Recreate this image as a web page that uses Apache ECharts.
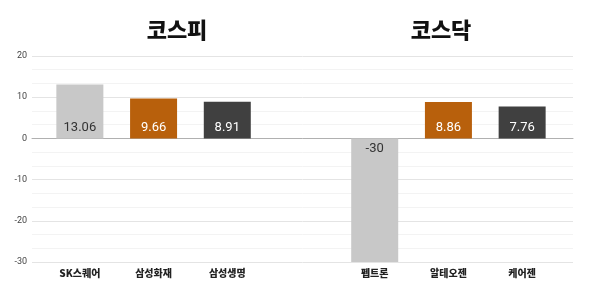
<!DOCTYPE html>
<html><head><meta charset="utf-8">
<script src="https://cdn.jsdelivr.net/npm/echarts@6/dist/echarts.min.js"></script>
<style>html,body{margin:0;padding:0;background:#fff}#c{width:600px;height:300px}</style>
</head><body><div id="c"></div>
<script>
const categories = ['SK스퀘어','삼성화재','삼성생명','','펩트론','알테오젠','케어젠'];
const values = [13.06, 9.66, 8.91, null, -30, 8.86, 7.76];
const groupTitles = ['코스피','코스닥'];
const yTicks = {min: -30, max: 20, interval: 10};
const barColors = ['#c8c8c8','#b8600c','#404040','#c8c8c8','#c8c8c8','#b8600c','#404040'];
const labelColors = ['#333333','#ffffff','#ffffff','#333333','#333333','#ffffff','#ffffff'];

const font = '"Noto Sans CJK KR", "Noto Sans", sans-serif';
const numFont = 'Roboto, "Noto Sans", sans-serif';
const chart = echarts.init(document.getElementById('c'));
const data = values.map((v, i) => v === null ? null : ({
  value: v,
  itemStyle: {color: barColors[i]},
  label: {color: labelColors[i], position: v < 0 ? 'insideTop' : 'insideBottom'}
}));
chart.setOption({
  animation: false,
  graphic: [
    {type: 'text', x: 177, y: 30, style: {text: groupTitles[0], font: '900 22px ' + font, fill: '#111', textAlign: 'center', textVerticalAlign: 'middle'}},
    {type: 'text', x: 441, y: 30, style: {text: groupTitles[1], font: '900 22px ' + font, fill: '#111', textAlign: 'center', textVerticalAlign: 'middle'}}
  ],
  grid: [
    {left: 32, right: 27, top: 56, bottom: 38},
    {left: 43, right: 41, top: 56, bottom: 38}
  ],
  xAxis: [
    {gridIndex: 0, type: 'value', min: 0, max: 1, axisLabel: {show: false}, axisTick: {show: false}, splitLine: {show: false},
     axisLine: {show: true, onZero: true, lineStyle: {color: '#b0b0b0', width: 1}}},
    {gridIndex: 1, type: 'category', data: categories, axisLine: {show: false}, axisTick: {show: false},
     axisLabel: {interval: 0, margin: 6, fontFamily: font, fontWeight: 900, fontSize: 10, color: '#222'}}
  ],
  yAxis: [
    {gridIndex: 0, type: 'value', min: yTicks.min, max: yTicks.max, interval: yTicks.interval,
     axisLine: {show: false}, axisTick: {show: false},
     axisLabel: {fontFamily: numFont, fontSize: 9, color: '#444', margin: 5},
     splitLine: {lineStyle: {color: '#e4e4e4'}},
     minorTick: {show: false, splitNumber: 3},
     minorSplitLine: {show: true, lineStyle: {color: '#f3f3f3'}}},
    {gridIndex: 1, type: 'value', min: yTicks.min, max: yTicks.max, interval: yTicks.interval, show: false}
  ],
  series: [{
    type: 'bar', xAxisIndex: 1, yAxisIndex: 1, data: data, barWidth: 47,
    label: {show: true, fontFamily: numFont, fontSize: 13, distance: 4,
      formatter: p => String(p.value)}
  }]
});
</script></body></html>
